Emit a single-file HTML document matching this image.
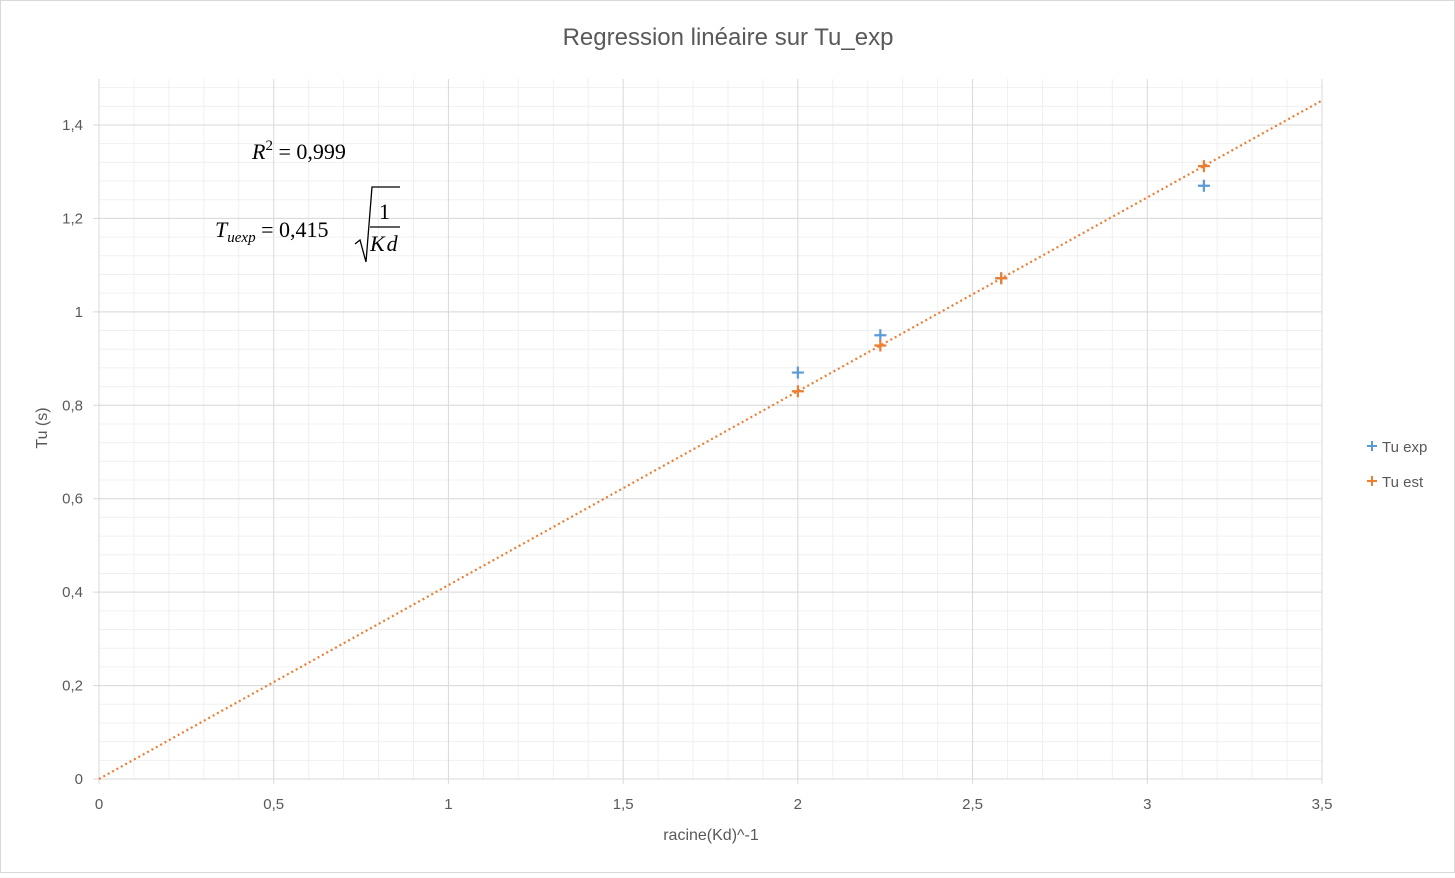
<!DOCTYPE html>
<html><head><meta charset="utf-8"><style>
body{margin:0;background:#fff;}
svg text{font-family:"Liberation Sans",sans-serif;}
svg text.math{font-family:"Liberation Serif",serif;}
</style></head><body>
<svg id="chart" width="1455" height="873" viewBox="0 0 1455 873" xmlns="http://www.w3.org/2000/svg">
<rect x="0.5" y="0.5" width="1454" height="872" fill="#fff" stroke="#d9d9d9"/>
<g id="grid"></g>
<g id="axes"></g>
<g id="marks"></g>
<text x="728" y="45" text-anchor="middle" font-size="24" fill="#595959">Regression linéaire sur Tu_exp</text>
<text x="711" y="840" text-anchor="middle" font-size="16" fill="#595959">racine(Kd)^-1</text>
<text transform="translate(47,428) rotate(-90)" text-anchor="middle" font-size="16" fill="#595959">Tu (s)</text>
<g fill="#000">
<text class="math" x="252" y="159" font-size="22" style="font-family:'Liberation Serif',serif"><tspan font-style="italic">R</tspan><tspan dy="-9" font-size="15">2</tspan><tspan dy="9"> = 0,999</tspan></text>
<text class="math" x="215" y="237" font-size="22" style="font-family:'Liberation Serif',serif"><tspan font-style="italic">T</tspan><tspan dy="5" font-size="15" font-style="italic">uexp</tspan><tspan dy="-5">  = 0,415</tspan></text>
<path d="M355,244 L360,240 L366,262 L372,187 L400,187" fill="none" stroke="#000" stroke-width="1.3"/>
<line x1="370" y1="227" x2="400" y2="227" stroke="#000" stroke-width="1.3"/>
<text class="math" x="379" y="219" font-size="22" style="font-family:'Liberation Serif',serif">1</text>
<text class="math" x="370" y="251" font-size="22" font-style="italic" letter-spacing="2" style="font-family:'Liberation Serif',serif">Kd</text>
</g>
<g>
<g>
<path d="M1367,446 h10 M1372,441 v10" stroke="#5b9bd5" stroke-width="2"/>
<text x="1382" y="452" font-size="15" fill="#595959">Tu exp</text></g>
<g>
<path d="M1367,481 h10 M1372,476 v10" stroke="#ed7d31" stroke-width="2"/>
<text x="1382" y="487" font-size="15" fill="#595959">Tu est</text></g>
</g>
</svg>
<script>
const xTicks=[0,0.5,1,1.5,2,2.5,3,3.5];
const xTickLabels=["0","0,5","1","1,5","2","2,5","3","3,5"];
const yTicks=[0,0.2,0.4,0.6,0.8,1,1.2,1.4];
const yTickLabels=["0","0,2","0,4","0,6","0,8","1","1,2","1,4"];
const xExp=[2,2.236,2.582,3.162];
const tuExp=[0.87,0.95,1.072,1.27];
const xEst=[2,2.236,2.582,3.162];
const tuEst=[0.83,0.928,1.072,1.312];
const slope=0.415;
const X0=99,X1=1322,Y0=779,YT=79;
const xMax=3.5,yMax=1.4;
const sx=v=>X0+v/xMax*(X1-X0);
const sy=v=>Y0-v/yMax*(779-125);
const NS="http://www.w3.org/2000/svg";
function mk(tag,attrs,parent){const e=document.createElementNS(NS,tag);for(const k in attrs)e.setAttribute(k,attrs[k]);parent.appendChild(e);return e;}
const grid=document.getElementById('grid'),axes=document.getElementById('axes'),marks=document.getElementById('marks');
for(let i=1;i<35;i++){if(i%5===0)continue;const l=mk('line',{x1:sx(i*0.1),x2:sx(i*0.1),y1:YT,y2:Y0,stroke:'#f0f0f0'},grid);

}
for(let v=0.04;v<1.5;v+=0.04){const y=sy(v);if(y<YT)break;const l=mk('line',{x1:X0,x2:X1,y1:y,y2:y,stroke:'#f0f0f0'},grid);

}
xTicks.forEach((v,i)=>{const l=mk('line',{x1:sx(v),x2:sx(v),y1:YT,y2:Y0+5,stroke:'#d9d9d9'},grid);


const t=mk('text',{x:sx(v),y:809,'text-anchor':'middle','font-size':15,fill:'#595959'},axes);t.textContent=xTickLabels[i];

});
yTicks.forEach((v,i)=>{const l=mk('line',{x1:X0-6,x2:X1,y1:sy(v),y2:sy(v),stroke:'#d9d9d9'},grid);


const t=mk('text',{x:83,y:sy(v)+5,'text-anchor':'end','font-size':15,fill:'#595959'},axes);t.textContent=yTickLabels[i];

});
const tl=mk('line',{x1:sx(0),y1:sy(0),x2:sx(xMax),y2:sy(slope*xMax),stroke:'#ed7d31','stroke-width':2.2,'stroke-dasharray':'2 3'},marks);


function cross(x,y,c,name){const p=mk('path',{d:`M${sx(x)-6},${sy(y)} h12 M${sx(x)},${sy(y)-6} v12`,stroke:c,'stroke-width':2.2},marks);

}
xExp.forEach((x,i)=>cross(x,tuExp[i],'#5b9bd5','point-tu-exp'));
xEst.forEach((x,i)=>cross(x,tuEst[i],'#ed7d31','point-tu-est'));
</script>
</body></html>
